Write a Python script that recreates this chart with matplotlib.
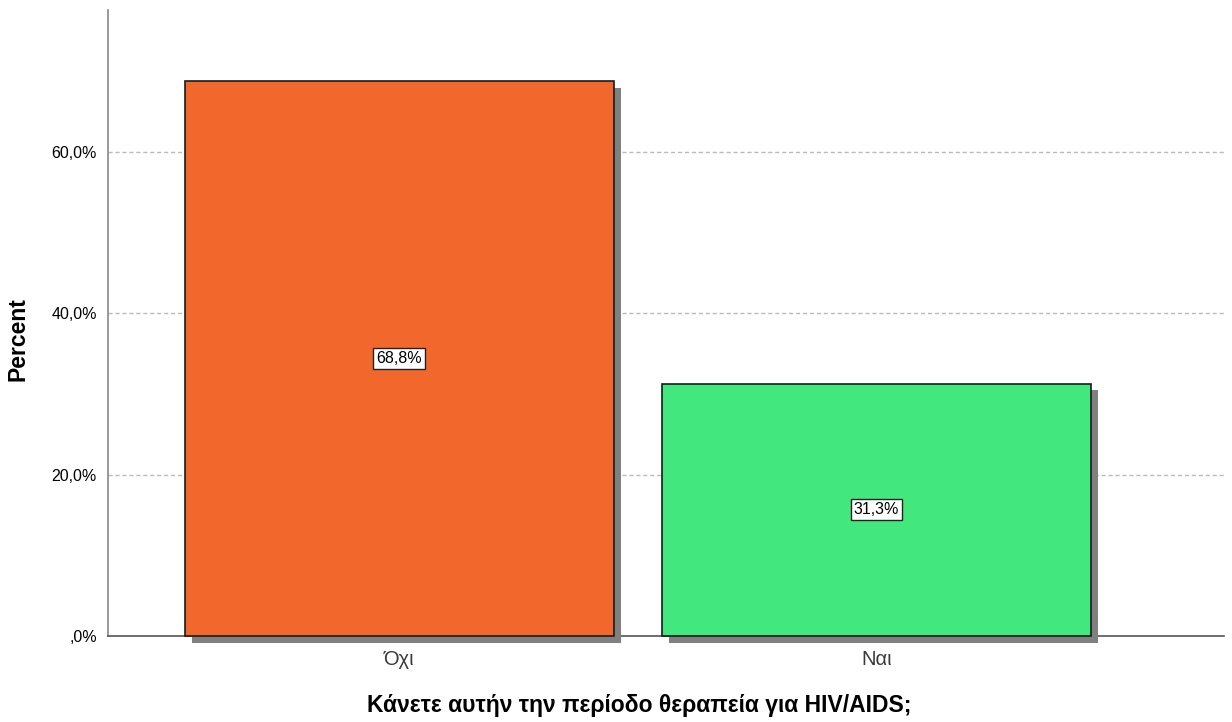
import matplotlib
matplotlib.use("Agg")
import matplotlib.pyplot as plt
import matplotlib.patheffects as pe

categories = ["Όχι", "Ναι"]
values = [68.8, 31.3]
labels = ["68,8%", "31,3%"]
colors = ["#F2682C", "#42E87E"]
yticks = [0, 20, 40, 60]
yticklabels = [",0%", "20,0%", "40,0%", "60,0%"]

plt.rcParams['font.family'] = ['Liberation Sans', 'DejaVu Sans']

fig = plt.figure(figsize=(12.32, 7.22), dpi=100)
ax = fig.add_axes([108/1232, 1-636/722, (1224-108)/1232, (636-10)/722])

x = range(len(categories))
bars = ax.bar(x, values, width=0.9, color=colors, edgecolor="#1a1a1a", linewidth=1.2,
              zorder=3, clip_on=False,
              path_effects=[pe.SimplePatchShadow(offset=(5, -5), shadow_rgbFace="#808080", alpha=1.0),
                            pe.Normal()])

for xi, v, lab in zip(x, values, labels):
    ax.text(xi, v / 2, lab, ha="center", va="center", fontsize=11.5, zorder=5,
            bbox=dict(boxstyle="square,pad=0.2", facecolor="white", edgecolor="#222222", linewidth=1))

ax.set_xlim(-0.611, 1.7285)
ax.set_ylim(0, 77.6)
ax.set_yticks(yticks)
ax.set_yticklabels(yticklabels, fontsize=11.5)
ax.set_xticks(list(x))
ax.set_xticklabels(categories, fontsize=14.5, color="#3a3a3a")
ax.tick_params(axis="y", length=0, pad=8)
ax.tick_params(axis="x", length=0, pad=10)

for t in yticks[1:]:
    ax.axhline(t, color="#bbbbbb", linestyle=(0, (3, 2)), linewidth=1, zorder=1)

for s in ["top", "right"]:
    ax.spines[s].set_visible(False)
ax.spines["left"].set_color("#888888")
ax.spines["bottom"].set_color("#555555")
ax.spines["left"].set_linewidth(1.2)
ax.spines["bottom"].set_linewidth(1.2)

ax.set_ylabel("Percent", fontsize=16.5, fontweight="bold")
ax.set_xlabel("Κάνετε αυτήν την περίοδο θεραπεία για HIV/AIDS;", fontsize=16.5, fontweight="bold")
ax.yaxis.set_label_coords(-0.0699, 0.474)
ax.xaxis.set_label_coords(0.476, -0.0927)

fig.savefig("out.png", dpi=100)
